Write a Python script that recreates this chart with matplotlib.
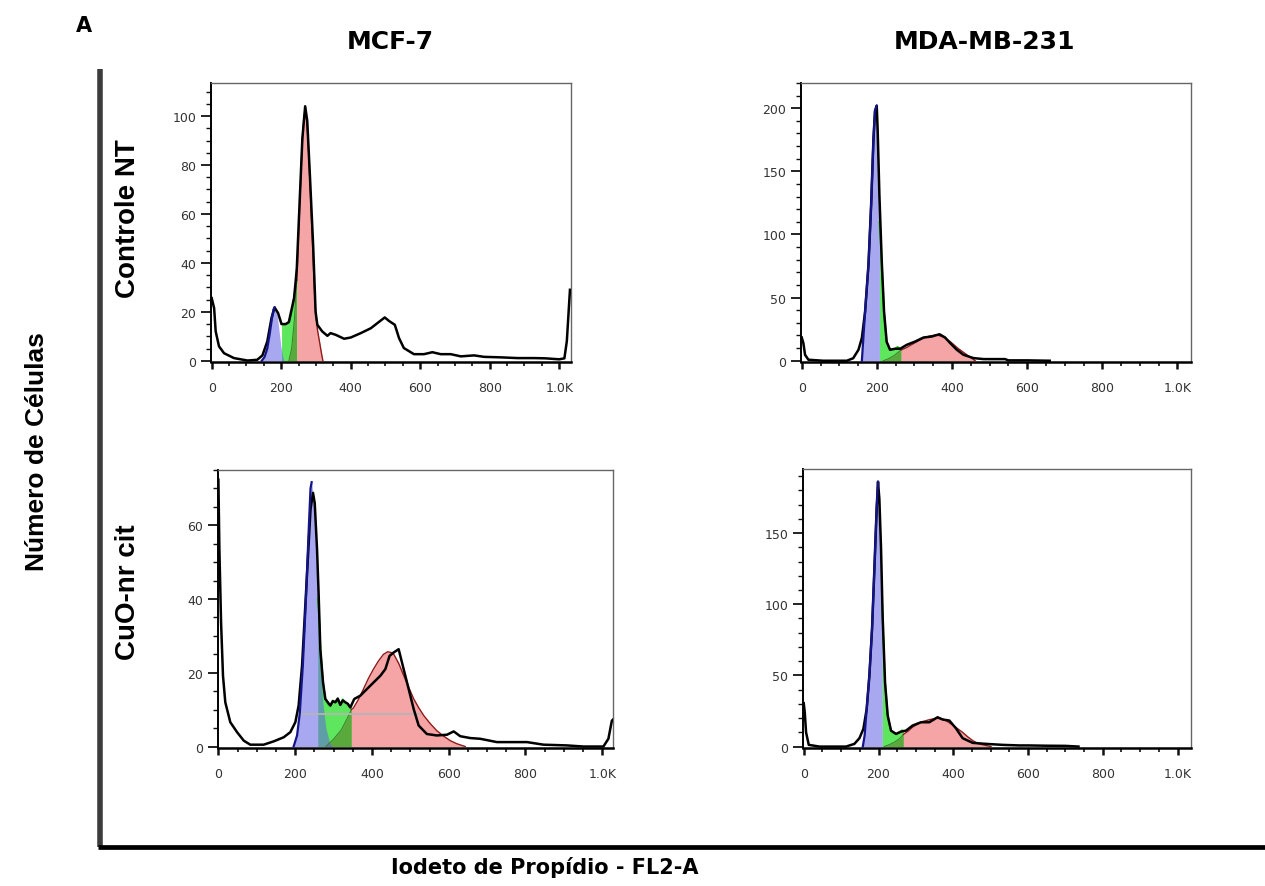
import numpy as np
import matplotlib.pyplot as plt
from matplotlib.ticker import MultipleLocator, FixedLocator
from matplotlib.lines import Line2D

# =============================================================================
# --- Donnees (x en canal FL2-A, y en nombre de cellules) ---
# =============================================================================

# MCF-7, Controle NT
mcf_nt_x = [0, 7, 11.5, 21, 35.5, 64, 103, 131, 146, 160, 172, 181, 191, 201, 213, 222,
            237, 242, 245, 254, 261, 269, 275, 283, 292, 299, 304, 318, 333, 342, 357,
            381, 400, 429, 458, 477, 498, 510, 527, 539, 553, 582, 611, 635, 659, 688,
            717, 755, 784, 832, 880, 928, 960, 1000, 1015, 1022, 1028, 1031]
mcf_nt_y = [25.6, 21.5, 12, 5.9, 3.1, 1.1, 0.1, 0.4, 2.2, 7.9, 17.4, 21.8, 19.5, 15, 15,
            15.8, 25.6, 33, 38, 68, 91, 104, 98, 74.6, 47, 20, 14.7, 12, 10.2, 11.3, 10.6,
            9, 9.5, 11.3, 13.3, 15.4, 17.7, 16.3, 14.7, 9.3, 5.2, 2.7, 2.7, 3.5, 2.7, 2.7,
            1.8, 2.2, 1.6, 1.4, 1.1, 1.1, 1.0, 0.6, 1, 8, 22, 29]
mcf_nt_g1_x = [144, 152, 160, 167, 173, 178, 181, 185, 189, 194, 199, 204, 208]
mcf_nt_g1_y = [0, 1.5, 5, 11, 17, 21, 21.8, 21, 18, 12, 6, 2, 0]
mcf_nt_s_x = [201, 207, 213, 218, 223, 228, 233, 237, 241, 245]
mcf_nt_s_y = [15, 14.8, 15, 15.4, 15.8, 18, 22, 25.6, 30, 33]
mcf_nt_g2_x = [222, 230, 238, 245, 250, 255, 260, 265, 269, 273, 278, 283, 288, 293, 298,
               304, 310, 316, 320]
mcf_nt_g2_y = [0, 5, 17, 33, 52, 70, 88, 99, 103, 99, 88, 72, 55, 38, 22, 13, 8, 3, 0]

# MDA-MB-231, Controle NT
mda_nt_x = [0, 4.3, 8.8, 17.7, 57, 120, 137, 151, 160, 168.6, 177.5, 184.6, 190.8, 195,
            199.6, 202, 206.7, 213, 219, 226, 235, 248.5, 262, 279.5, 301.7, 324, 346,
            366.6, 381.6, 395, 412.7, 430.5, 457, 484, 510, 541, 550, 600, 660]
mda_nt_y = [18.4, 14, 4.7, 0.8, 0, 0, 2, 8.7, 18, 39, 75.7, 123, 175.5, 198, 202, 183,
            131, 78, 39, 15, 8.7, 9.5, 9.5, 12.6, 15.2, 18.4, 19.2, 21, 18.4, 14, 8.7, 4.7,
            2.1, 1.3, 1.3, 1.3, 0.3, 0.3, 0]
mda_nt_g1_x = [160, 168.6, 177.5, 184.6, 190.8, 195, 199.6, 202, 206.7, 206.7]
mda_nt_g1_y = [0, 39, 75.7, 123, 175.5, 198, 202, 183, 131, 0]
mda_nt_s_x = [206.7, 210, 213, 219, 226, 235, 242, 248.5, 255, 262, 264.5]
mda_nt_s_y = [110, 95, 78, 39, 15, 8.7, 9, 9.5, 11, 9.5, 9.5]
mda_nt_g2_x = [217, 230, 245, 264.5, 279.5, 300, 324, 340, 359.5, 375, 395, 415, 439.5,
               450, 461.6]
mda_nt_g2_y = [0, 1.5, 4, 8.5, 10.5, 14, 17.9, 19.5, 20.5, 19, 15.2, 10, 4.7, 2.5, 0]

# MCF-7, CuO-nr cit
mcf_cuo_x = [0, 2.6, 7, 12, 18, 31, 48.6, 66, 83, 118, 144, 170, 187.5, 200.5, 209, 218,
             225, 233, 240, 246.5, 251, 257, 261, 265.6, 272.6, 278.6, 291.7, 298, 304.7,
             311, 317.7, 324, 330.7, 337, 343.7, 354, 369.8, 387, 404.5, 422, 435, 446,
             456.6, 469.6, 482.6, 495.7, 508.7, 521.7, 543, 569, 595.5, 613, 630, 656,
             682, 725.7, 760, 804, 847, 908, 951, 1003, 1016, 1025, 1028]
mcf_cuo_y = [72.4, 53.5, 33.6, 19.2, 12, 6.6, 3.9, 1.6, 0.5, 0.5, 1.4, 2.5, 3.9, 6.6,
             11.1, 22, 35.5, 50.8, 64.3, 68.8, 66, 53.5, 41.8, 26.4, 17.4, 12.9, 11.1,
             12.3, 12, 13, 11.3, 12.5, 12, 11.6, 10.6, 12.9, 13.8, 15.6, 17.4, 19.2, 21,
             24.6, 25.5, 26.4, 21, 15.6, 10.2, 5.7, 3.4, 3, 3.2, 4.1, 2.8, 2.3, 2.1, 1.2,
             1.2, 1.2, 0.5, 0.3, 0, 0, 2.1, 7, 7.3]
mcf_cuo_g1_x = [196, 205, 212, 220, 228, 235, 240, 243, 247, 252, 258, 265, 272, 280,
                290, 298]
mcf_cuo_g1_y = [0, 3, 9, 22, 40, 58, 70, 71.7, 68, 58, 42, 25, 12, 5, 1, 0]
mcf_cuo_s_x = [259, 262, 266, 272.6, 278.6, 285, 291.7, 298, 304.7, 311, 317.7, 324,
               330.7, 337, 343.7, 346.4]
mcf_cuo_s_y = [40, 36, 26.4, 17.4, 12.9, 11.5, 11.1, 12.5, 12, 13, 11.3, 12.8, 12, 11.5,
               10.6, 11]
mcf_cuo_g2_x = [280, 300, 320, 335, 346.4, 352, 365, 378, 391, 404, 417, 430, 441, 450,
                457, 470, 483, 496, 509, 522, 535, 552, 569, 587, 604, 620, 643]
mcf_cuo_g2_y = [0, 2, 4.5, 7.5, 10, 10.5, 12.8, 15.6, 18.5, 21, 23.2, 25, 25.7, 25.5, 25,
                22.5, 19.2, 16, 12.9, 10.5, 8.4, 6.2, 4.3, 2.8, 1.6, 0.8, 0]
mcf_cuo_sline = [213, 526, 8.9]  # trait gris horizontal (x debut, x fin, niveau)

# MDA-MB-231, CuO-nr cit
mda_cuo_x = [0, 2.7, 6.2, 13.4, 42, 113, 135.5, 149, 159.5, 168.4, 175.6, 182.7, 189, 195,
             198.7, 202.3, 206.8, 211, 217.5, 224.6, 233.5, 247, 260, 273.6, 291.4, 313.7,
             336, 358, 371.7, 389.5, 407, 425, 452, 487.5, 532, 576.6, 600, 650, 700, 735]
mda_cuo_y = [30.5, 24, 10, 1.2, 0, 0, 1.9, 5.9, 12.4, 26.5, 50, 82.7, 125, 167, 186, 174,
             139, 92, 45, 21.8, 11.2, 8.9, 10.5, 11.2, 14.8, 17.1, 17.1, 20.6, 19, 18.3,
             12.9, 5.9, 2.6, 1.9, 1.2, 0.8, 0.8, 0.6, 0.5, 0]
mda_cuo_g1_x = [158, 163, 168.4, 175.6, 182.7, 189, 195, 198.7, 202.3, 206.8, 210, 210]
mda_cuo_g1_y = [0, 8, 26.5, 50, 82.7, 125, 167, 186, 174, 139, 100, 0]
mda_cuo_s_x = [210, 213, 217.5, 224.6, 233.5, 240, 247, 253, 260, 263, 266.5]
mda_cuo_s_y = [100, 75, 45, 21.8, 11.2, 9.5, 8.9, 9.5, 10.5, 11.5, 11]
mda_cuo_g2_x = [215, 230, 245, 256, 266.5, 280, 291, 305, 318, 335, 354, 370, 385, 398,
                412, 425, 438, 452, 466, 480, 501]
mda_cuo_g2_y = [0, 1.5, 3.5, 5.5, 8.5, 11, 13.6, 15.8, 17.6, 18.8, 19.9, 19.6, 17.5, 15.2,
                12.5, 10, 7, 4.2, 2.2, 1.2, 0]

xticks = [0, 200, 400, 600, 800, 1000]
xticklabels = ['0', '200', '400', '600', '800', '1.0K']

# =============================================================================
# --- Couleurs et geometrie ---------------------------------------------------
# =============================================================================

BLUE = '#6161e4'
GREEN = '#5ee65e'
OLIVE = '#5aa93c'
RED = '#f5a5a5'

W, H = 1265, 887


def box(x0, y0, x1, y1):
    """Position d'un axe a partir de pixels (origine en haut a gauche)."""
    return [x0 / W, 1 - y1 / H, (x1 - x0) / W, (y1 - y0) / H]


def panel(ax, hx, hy, bx, by, sx, sy, rx, ry, s_end, xlim, ylim, ystep, yminor):
    bx, by = np.array(bx), np.array(by)
    rx, ry = np.array(rx), np.array(ry)

    # phases S, G2 et G1
    ax.fill_between(sx, sy, color=GREEN, lw=0, zorder=1)
    ax.fill_between(rx, ry, where=rx <= s_end, color=OLIVE, lw=0, zorder=2)
    ax.fill_between(rx, ry, where=rx >= s_end, color=RED, lw=0, zorder=2)
    ax.fill_between(bx, by, color=BLUE, alpha=0.55, lw=0, zorder=3)
    ax.plot(sx, sy, color='#1fd01f', lw=1.3, zorder=4)
    ax.plot(rx[rx <= s_end], ry[rx <= s_end], color='#3d7a2a', lw=0.7, zorder=4)
    ax.plot(rx[rx >= s_end], ry[rx >= s_end], color='#8e1a1a', lw=1.0, zorder=4)

    # histogramme
    ax.plot(hx, hy, color='black', lw=1.8, zorder=5)
    ip = int(np.argmax(by))
    ax.plot(bx[:ip + 1], by[:ip + 1], color='#14148a', lw=1.6, zorder=6)

    ax.set_xlim(*xlim)
    ax.set_ylim(*ylim)
    ax.xaxis.set_major_locator(FixedLocator(xticks))
    ax.set_xticklabels(xticklabels)
    ax.xaxis.set_minor_locator(MultipleLocator(50))
    ax.yaxis.set_major_locator(MultipleLocator(ystep))
    ax.yaxis.set_minor_locator(MultipleLocator(yminor))

    ax.tick_params(axis='both', which='both', direction='out', colors='#111',
                   labelcolor='#333', labelsize=9)
    ax.tick_params(axis='x', which='major', length=5, width=1.8, pad=9)
    ax.tick_params(axis='x', which='minor', length=3, width=1.2)
    ax.tick_params(axis='y', which='major', length=7.5, width=1.3, pad=3)
    ax.tick_params(axis='y', which='minor', length=3.5, width=1.0)

    for side in ('top', 'right'):
        ax.spines[side].set_color('#666')
        ax.spines[side].set_linewidth(1.0)
    ax.spines['left'].set_linewidth(1.4)
    ax.spines['bottom'].set_linewidth(1.8)


# =============================================================================
# --- Creation de la figure ---------------------------------------------------
# =============================================================================

fig = plt.figure(figsize=(12.65, 8.87), dpi=100)

ax1 = fig.add_axes(box(211, 84, 571, 363))
panel(ax1, mcf_nt_x, mcf_nt_y, mcf_nt_g1_x, mcf_nt_g1_y, mcf_nt_s_x, mcf_nt_s_y,
      mcf_nt_g2_x, mcf_nt_g2_y, 245, (-2, 1034), (-0.5, 113.5), 20, 5)

ax2 = fig.add_axes(box(801, 84, 1191, 363))
panel(ax2, mda_nt_x, mda_nt_y, mda_nt_g1_x, mda_nt_g1_y, mda_nt_s_x, mda_nt_s_y,
      mda_nt_g2_x, mda_nt_g2_y, 264.5, (-2, 1036), (-1, 220), 50, 10)

ax3 = fig.add_axes(box(218, 471, 613, 749))
panel(ax3, mcf_cuo_x, mcf_cuo_y, mcf_cuo_g1_x, mcf_cuo_g1_y, mcf_cuo_s_x, mcf_cuo_s_y,
      mcf_cuo_g2_x, mcf_cuo_g2_y, 346.4, (-1, 1028), (-0.4, 75), 20, 5)
ax3.plot(mcf_cuo_sline[:2], [mcf_cuo_sline[2]] * 2, color='#b5b5b5', lw=1.3, zorder=4.5)

ax4 = fig.add_axes(box(803, 470, 1191, 749))
panel(ax4, mda_cuo_x, mda_cuo_y, mda_cuo_g1_x, mda_cuo_g1_y, mda_cuo_s_x, mda_cuo_s_y,
      mda_cuo_g2_x, mda_cuo_g2_y, 266.5, (-2, 1036), (-1, 195), 50, 10)

# Grand cadre en L
fig.add_artist(Line2D([100 / W, 100 / W], [1 - 70 / H, 1 - 848 / H],
                      color='#3c3c3c', lw=4, solid_capstyle='butt'))
fig.add_artist(Line2D([98 / W, 1], [1 - 848 / H, 1 - 848 / H],
                      color='black', lw=3.4, solid_capstyle='butt'))

# Textes
heavy = dict(family='DejaVu Sans', weight='bold', ha='center', va='center')
side = dict(family=['Liberation Sans', 'DejaVu Sans'],
            weight='bold', ha='center', va='center', rotation=90)

fig.text(84 / W, 1 - 26 / H, 'A', fontsize=15, **heavy)
fig.text(390 / W, 1 - 42 / H, 'MCF-7', fontsize=18, **heavy)
fig.text(985 / W, 1 - 42 / H, 'MDA-MB-231', fontsize=18, **heavy)
fig.text(128 / W, 1 - 219 / H, 'Controle NT', fontsize=20, **side)
fig.text(128 / W, 1 - 592 / H, 'CuO-nr cit', fontsize=20, **side)
fig.text(37 / W, 1 - 452 / H, 'Número de Células', fontsize=19, **side)
fig.text(545 / W, 1 - 868 / H, 'Iodeto de Propídio - FL2-A', fontsize=15, **heavy)

plt.savefig('out.png', dpi=100)
